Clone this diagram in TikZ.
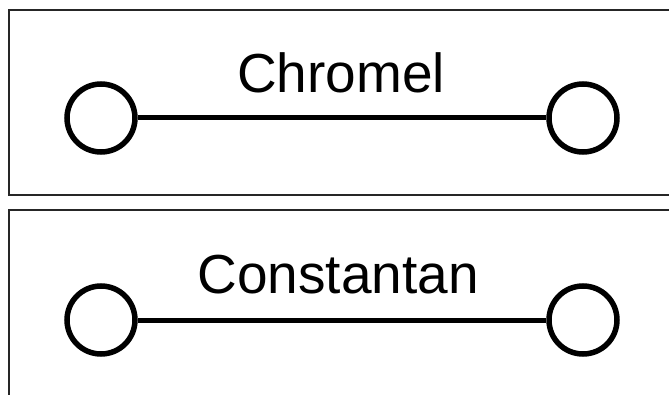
\documentclass[tikz,border=0pt]{standalone}
\usepackage{fontspec}
\setmainfont{Liberation Sans}
\begin{document}
\begin{tikzpicture}[x=1pt,y=1pt,
  panel/.style={draw=black!85,line width=1.7pt},
  terminal/.style={circle,draw=black,line width=5.5pt,minimum size=68pt,inner sep=0pt,fill=white},
  wire/.style={draw=black,line width=5pt},
  label/.style={font=\fontsize{55}{60}\selectfont,anchor=base,inner sep=0pt}]
\useasboundingbox (0,0) rectangle (669,394);
\clip (0,0) rectangle (669,394);
\fill[white] (0,0) rectangle (669,394);
% panels
\draw[panel] (9,384) rectangle (700,199);
\draw[panel] (9,184) rectangle (700,-20);
% top: Chromel
\node[terminal] (c1) at (101,276) {};
\node[terminal] (c2) at (583,276) {};
\draw[wire] (c1) -- (c2);
\node[label] (chromel) at (341,301) {Chromel};
% bottom: Constantan
\node[terminal] (k1) at (101,74) {};
\node[terminal] (k2) at (583,74) {};
\draw[wire] (k1) -- (k2);
\node[label] (constantan) at (338,101) {Constantan};
\end{tikzpicture}
\end{document}
